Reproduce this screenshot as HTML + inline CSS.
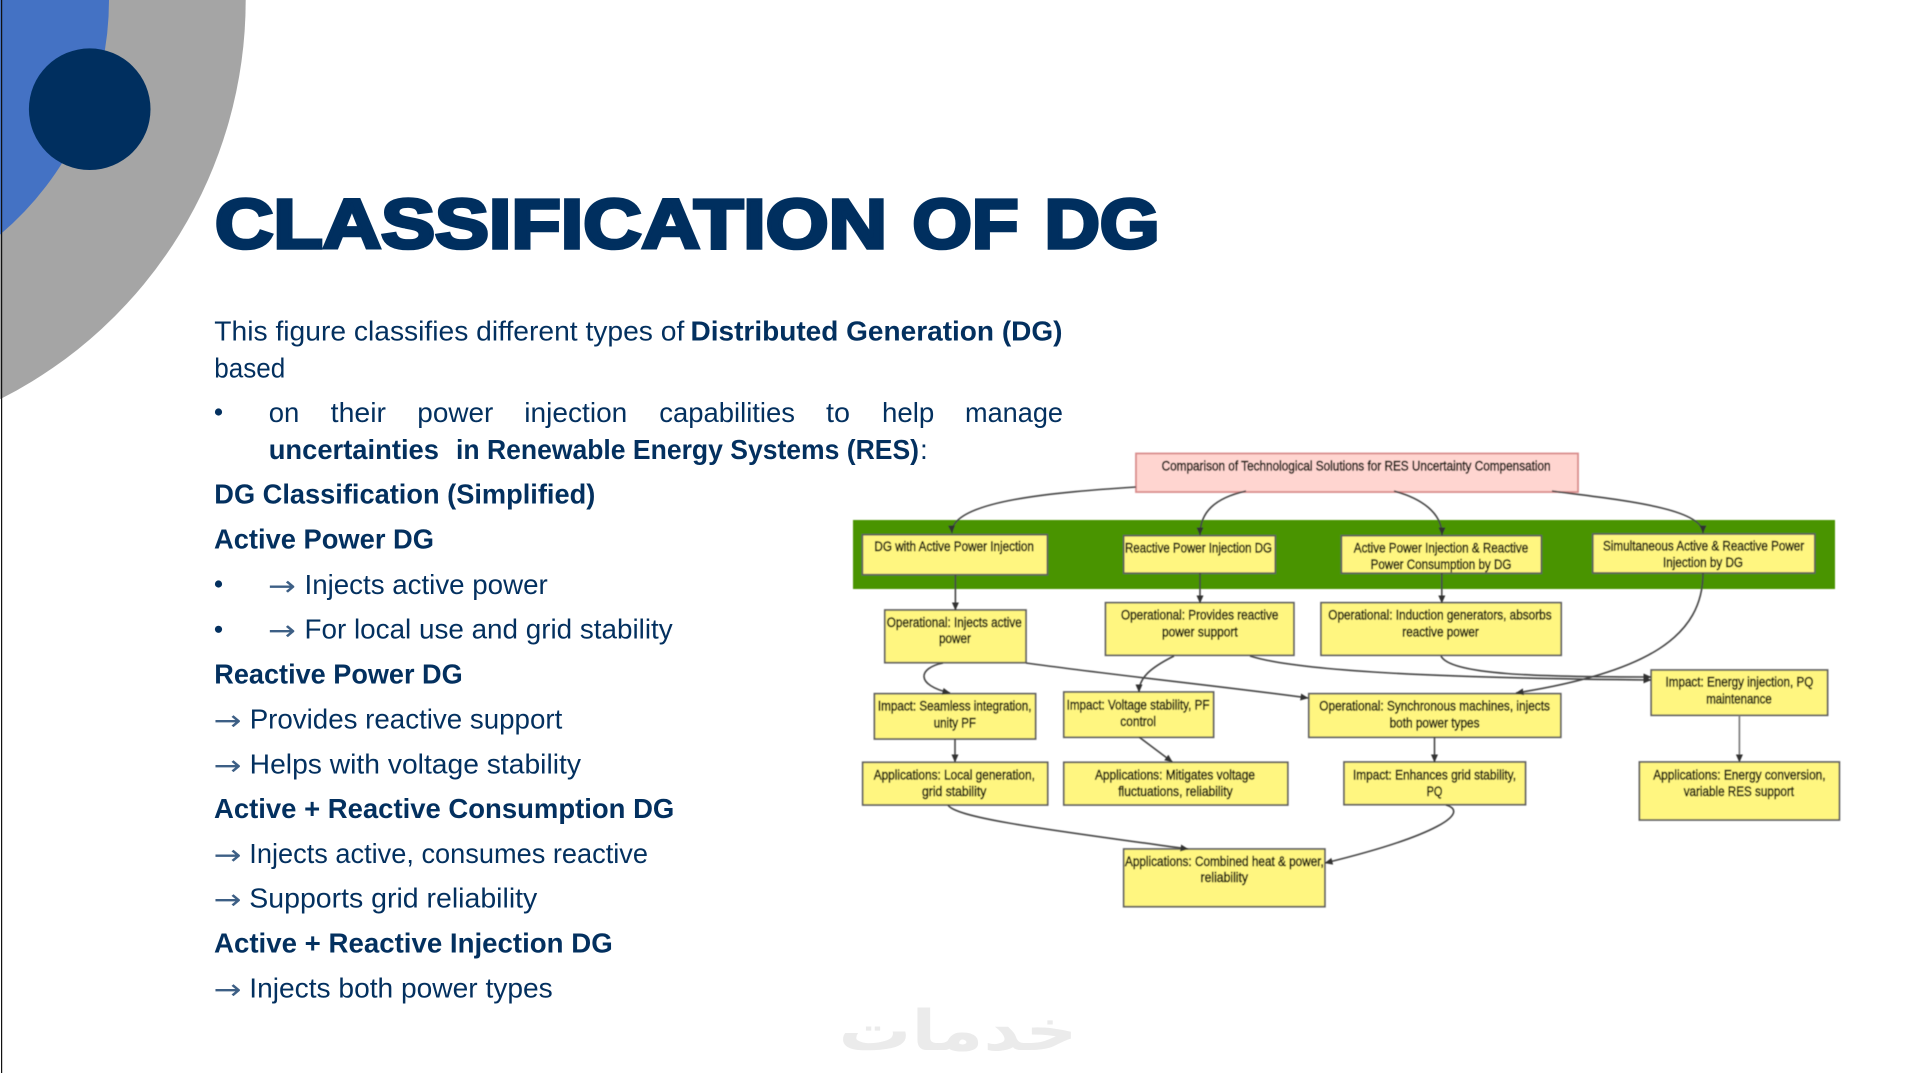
<!DOCTYPE html>
<html lang="en">
<head>
<meta charset="utf-8">
<title>Classification of DG</title>
<style>
html,body{margin:0;padding:0;background:#fff;width:1918px;height:1073px;overflow:hidden}
svg{display:block}
.b{font:400 28px "Liberation Sans",sans-serif;fill:#03305f}
.h{font:700 28px "Liberation Sans",sans-serif;fill:#03305f}
.r{font:400 28px "DejaVu Sans",sans-serif;fill:#3d5f85}
.t{font:700 70px "Liberation Sans",sans-serif;fill:#002f5f;stroke:#002f5f;stroke-width:3.6;stroke-linejoin:miter}
.d text{font:400 13.5px "Liberation Sans",sans-serif;fill:#14140a;stroke:#14140a;stroke-width:.55}
.y{fill:#fff680;stroke:#5e5e5e;stroke-width:1.7}
.c{fill:none;stroke:#444;stroke-width:1.6}
</style>
</head>
<body>
<svg width="1918" height="1073" viewBox="0 0 1918 1073" xmlns="http://www.w3.org/2000/svg">
<defs>
<filter id="bl" filterUnits="userSpaceOnUse" x="840" y="440" width="1010" height="480"><feGaussianBlur stdDeviation="0.5"/></filter>
<marker id="a" viewBox="0 0 8 8" refX="7.5" refY="4" markerWidth="8" markerHeight="8" markerUnits="userSpaceOnUse" orient="auto"><path d="M0 0.5L8 4L0 7.5z" fill="#333"/></marker>
</defs>

<!-- decorative corner -->
<path d="M0 0H245.7A447 447 0 0 1 0 399.3Z" fill="#a5a5a5"/>
<path d="M0 0H109A307 307 0 0 1 0 234.6Z" fill="#4472c4"/>
<circle cx="89.7" cy="109.2" r="60.8" fill="#002f5f"/>
<rect x="1" y="0" width="1.2" height="1073" fill="#111"/>

<!-- title -->
<text class="t" x="215" y="248" textLength="672" lengthAdjust="spacingAndGlyphs">CLASSIFICATION</text>
<text class="t" x="912.5" y="248" textLength="106" lengthAdjust="spacingAndGlyphs">OF</text>
<text class="t" x="1044.5" y="248" textLength="115" lengthAdjust="spacingAndGlyphs">DG</text>

<!-- body text -->
<text class="b" x="214.3" y="340.7" textLength="470" lengthAdjust="spacingAndGlyphs">This figure classifies different types of</text>
<text class="h" x="690.5" y="340.7" textLength="372" lengthAdjust="spacingAndGlyphs">Distributed Generation (DG)</text>
<text class="b" x="214.3" y="377.7" textLength="71" lengthAdjust="spacingAndGlyphs">based</text>

<circle cx="218.5" cy="412" r="3.6" fill="#03305f"/>
<text class="b" x="268.7" y="422" textLength="30.6" lengthAdjust="spacingAndGlyphs">on</text>
<text class="b" x="330.7" y="422" textLength="55.3" lengthAdjust="spacingAndGlyphs">their</text>
<text class="b" x="417.3" y="422" textLength="76" lengthAdjust="spacingAndGlyphs">power</text>
<text class="b" x="524.3" y="422" textLength="103" lengthAdjust="spacingAndGlyphs">injection</text>
<text class="b" x="659.3" y="422" textLength="135.7" lengthAdjust="spacingAndGlyphs">capabilities</text>
<text class="b" x="826" y="422" textLength="24" lengthAdjust="spacingAndGlyphs">to</text>
<text class="b" x="882" y="422" textLength="52.3" lengthAdjust="spacingAndGlyphs">help</text>
<text class="b" x="965" y="422" textLength="98" lengthAdjust="spacingAndGlyphs">manage</text>

<text class="h" x="268.7" y="459" textLength="170.3" lengthAdjust="spacingAndGlyphs">uncertainties</text>
<text class="h" x="456" y="459" textLength="463" lengthAdjust="spacingAndGlyphs">in Renewable Energy Systems (RES)</text>
<text class="b" x="920" y="459">:</text>

<text class="h" x="214.3" y="503.3" textLength="381" lengthAdjust="spacingAndGlyphs">DG Classification (Simplified)</text>
<text class="h" x="214" y="548.7" textLength="220" lengthAdjust="spacingAndGlyphs">Active Power DG</text>

<circle cx="218.5" cy="584" r="3.6" fill="#03305f"/>
<text class="r" x="268" y="595.5" textLength="28" lengthAdjust="spacingAndGlyphs">→</text>
<text class="b" x="304.5" y="594" textLength="243.2" lengthAdjust="spacingAndGlyphs">Injects active power</text>

<circle cx="218.5" cy="629.3" r="3.6" fill="#03305f"/>
<text class="r" x="268" y="640.2" textLength="28" lengthAdjust="spacingAndGlyphs">→</text>
<text class="b" x="304.5" y="638.7" textLength="368.2" lengthAdjust="spacingAndGlyphs">For local use and grid stability</text>

<text class="h" x="214.3" y="683.3" textLength="248.4" lengthAdjust="spacingAndGlyphs">Reactive Power DG</text>
<text class="r" x="213.7" y="729.8" textLength="28" lengthAdjust="spacingAndGlyphs">→</text>
<text class="b" x="249.7" y="728.3" textLength="312.6" lengthAdjust="spacingAndGlyphs">Provides reactive support</text>
<text class="r" x="213.7" y="774.8" textLength="28" lengthAdjust="spacingAndGlyphs">→</text>
<text class="b" x="249.7" y="773.3" textLength="331.3" lengthAdjust="spacingAndGlyphs">Helps with voltage stability</text>
<text class="h" x="214" y="818" textLength="460.3" lengthAdjust="spacingAndGlyphs">Active + Reactive Consumption DG</text>
<text class="r" x="213.7" y="864.5" textLength="28" lengthAdjust="spacingAndGlyphs">→</text>
<text class="b" x="249.3" y="863" textLength="398.7" lengthAdjust="spacingAndGlyphs">Injects active, consumes reactive</text>
<text class="r" x="213.7" y="909.2" textLength="28" lengthAdjust="spacingAndGlyphs">→</text>
<text class="b" x="249.3" y="907.7" textLength="288" lengthAdjust="spacingAndGlyphs">Supports grid reliability</text>
<text class="h" x="214" y="952.7" textLength="398.7" lengthAdjust="spacingAndGlyphs">Active + Reactive Injection DG</text>
<text class="r" x="213.7" y="998.8" textLength="28" lengthAdjust="spacingAndGlyphs">→</text>
<text class="b" x="249.3" y="997.3" textLength="303.4" lengthAdjust="spacingAndGlyphs">Injects both power types</text>

<!-- watermark -->
<text transform="translate(958 1050) scale(0.98 0.76)" text-anchor="middle" direction="rtl" style="font:700 74px 'DejaVu Sans',sans-serif;fill:#ebebeb">خدمات</text>

<!-- diagram -->
<g class="d" filter="url(#bl)">
<rect x="853" y="520" width="982" height="69" fill="#4a9400"/>
<rect x="1136" y="453.5" width="442" height="38.5" fill="#ffd5d0" stroke="#d98c8c" stroke-width="1.8"/>

<rect class="y" x="862.4" y="534.7" width="185" height="40"/>
<rect class="y" x="1123.7" y="535.7" width="151.6" height="37.5"/>
<rect class="y" x="1341.4" y="535.7" width="200" height="37.5"/>
<rect class="y" x="1592.8" y="534" width="222" height="39"/>
<rect class="y" x="884.8" y="610" width="141.2" height="52.7"/>
<rect class="y" x="1105.5" y="602.7" width="188.4" height="52.6"/>
<rect class="y" x="1321" y="602.7" width="240.2" height="52.6"/>
<rect class="y" x="874.4" y="693.7" width="161.2" height="45.3"/>
<rect class="y" x="1063.8" y="692" width="149.8" height="45.3"/>
<rect class="y" x="1308.8" y="693.7" width="252" height="43.6"/>
<rect class="y" x="1651.2" y="670" width="176.4" height="45.3"/>
<rect class="y" x="862.7" y="762.3" width="185" height="42.7"/>
<rect class="y" x="1063.8" y="762.3" width="224" height="42.7"/>
<rect class="y" x="1344" y="762" width="181.5" height="42.7"/>
<rect class="y" x="1639.4" y="762" width="200" height="58"/>
<rect class="y" x="1123.7" y="849" width="201.2" height="57.7"/>

<path class="c" d="M1136 487C1060 492 950 500 952 533" marker-end="url(#a)"/>
<path class="c" d="M1246 491C1215 498 1200 512 1200 535" marker-end="url(#a)"/>
<path class="c" d="M1394 491C1420 498 1442 512 1442 535" marker-end="url(#a)"/>
<path class="c" d="M1552 491C1620 500 1703 508 1703 533" marker-end="url(#a)"/>
<path class="c" d="M955.4 575V610" marker-end="url(#a)"/>
<path class="c" d="M1200 573V603" marker-end="url(#a)"/>
<path class="c" d="M1441.8 573V603" marker-end="url(#a)"/>
<path class="c" d="M1703 573C1703 635 1650 672 1516 693" marker-end="url(#a)"/>
<path class="c" d="M943 663C918 668 915 685 950 693" marker-end="url(#a)"/>
<path class="c" d="M1026 663C1120 676 1220 686 1308 698" marker-end="url(#a)"/>
<path class="c" d="M1174 656C1150 668 1139 678 1139 692" marker-end="url(#a)"/>
<path class="c" d="M1250 656C1300 672 1450 678 1651 680" marker-end="url(#a)"/>
<path class="c" d="M1441 656C1450 675 1540 677 1651 677" marker-end="url(#a)"/>
<path class="c" d="M955 739V762" marker-end="url(#a)"/>
<path class="c" d="M1139 737L1172.3 762" marker-end="url(#a)"/>
<path class="c" d="M1434.5 737V762" marker-end="url(#a)"/>
<path class="c" d="M1739.4 715V762" style="stroke:#777" marker-end="url(#a)"/>
<path class="c" d="M948 805C955 818 1050 830 1188 849" marker-end="url(#a)"/>
<path class="c" d="M1446 805C1470 812 1440 835 1325 863" marker-end="url(#a)"/>

<text x="1161.6" y="470.7" textLength="389" lengthAdjust="spacingAndGlyphs">Comparison of Technological Solutions for RES Uncertainty Compensation</text>
<text x="874.4" y="551" textLength="159.5" lengthAdjust="spacingAndGlyphs">DG with Active Power Injection</text>
<text x="1125" y="552.7" textLength="147" lengthAdjust="spacingAndGlyphs">Reactive Power Injection DG</text>
<text x="1353.8" y="552.7" textLength="174.4" lengthAdjust="spacingAndGlyphs">Active Power Injection &amp; Reactive</text>
<text x="1370.6" y="569" textLength="140.8" lengthAdjust="spacingAndGlyphs">Power Consumption by DG</text>
<text x="1603" y="550.3" textLength="201.2" lengthAdjust="spacingAndGlyphs">Simultaneous Active &amp; Reactive Power</text>
<text x="1663" y="567" textLength="80" lengthAdjust="spacingAndGlyphs">Injection by DG</text>
<text x="886.8" y="627" textLength="135" lengthAdjust="spacingAndGlyphs">Operational: Injects active</text>
<text x="939" y="643" textLength="31.9" lengthAdjust="spacingAndGlyphs">power</text>
<text x="1121" y="619.7" textLength="157.4" lengthAdjust="spacingAndGlyphs">Operational: Provides reactive</text>
<text x="1162" y="636.3" textLength="75.7" lengthAdjust="spacingAndGlyphs">power support</text>
<text x="1328.3" y="619.7" textLength="223.3" lengthAdjust="spacingAndGlyphs">Operational: Induction generators, absorbs</text>
<text x="1402.3" y="636.3" textLength="76.5" lengthAdjust="spacingAndGlyphs">reactive power</text>
<text x="877.9" y="710.7" textLength="153.6" lengthAdjust="spacingAndGlyphs">Impact: Seamless integration,</text>
<text x="933.7" y="727.3" textLength="42.3" lengthAdjust="spacingAndGlyphs">unity PF</text>
<text x="1066.6" y="709.3" textLength="142.9" lengthAdjust="spacingAndGlyphs">Impact: Voltage stability, PF</text>
<text x="1120.3" y="726" textLength="35.7" lengthAdjust="spacingAndGlyphs">control</text>
<text x="1319.3" y="710.7" textLength="230.6" lengthAdjust="spacingAndGlyphs">Operational: Synchronous machines, injects</text>
<text x="1389.6" y="727.3" textLength="89.9" lengthAdjust="spacingAndGlyphs">both power types</text>
<text x="1665.5" y="686.7" textLength="147.8" lengthAdjust="spacingAndGlyphs">Impact: Energy injection, PQ</text>
<text x="1706.2" y="703.3" textLength="65.6" lengthAdjust="spacingAndGlyphs">maintenance</text>
<text x="873.7" y="779.3" textLength="161.2" lengthAdjust="spacingAndGlyphs">Applications: Local generation,</text>
<text x="922" y="796" textLength="64.3" lengthAdjust="spacingAndGlyphs">grid stability</text>
<text x="1095" y="779.3" textLength="160" lengthAdjust="spacingAndGlyphs">Applications: Mitigates voltage</text>
<text x="1118.2" y="796" textLength="114.4" lengthAdjust="spacingAndGlyphs">fluctuations, reliability</text>
<text x="1353" y="779.3" textLength="163" lengthAdjust="spacingAndGlyphs">Impact: Enhances grid stability,</text>
<text x="1426.6" y="796" textLength="15.8" lengthAdjust="spacingAndGlyphs">PQ</text>
<text x="1653.2" y="779.3" textLength="172.4" lengthAdjust="spacingAndGlyphs">Applications: Energy conversion,</text>
<text x="1683.7" y="796" textLength="110.3" lengthAdjust="spacingAndGlyphs">variable RES support</text>
<text x="1125" y="866" textLength="198.8" lengthAdjust="spacingAndGlyphs">Applications: Combined heat &amp; power,</text>
<text x="1200.5" y="882" textLength="47.5" lengthAdjust="spacingAndGlyphs">reliability</text>
</g>
</svg>
</body>
</html>
